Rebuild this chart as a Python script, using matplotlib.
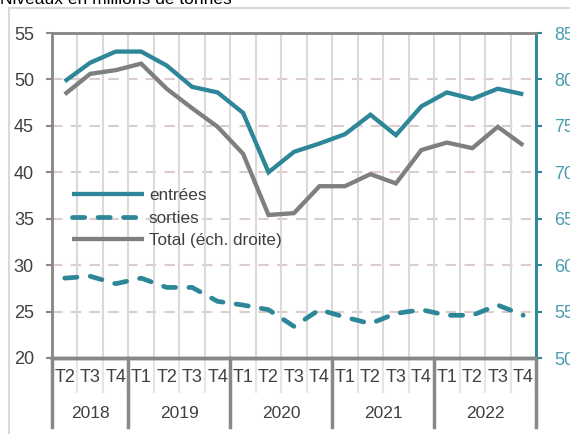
import matplotlib
matplotlib.use("Agg")
import matplotlib.pyplot as plt
import matplotlib.transforms as mtransforms
from matplotlib.lines import Line2D
from matplotlib.patches import Rectangle
import numpy as np

plt.rcParams['font.family'] = ['Liberation Sans', 'DejaVu Sans']

quarters = ["T2", "T3", "T4",
            "T1", "T2", "T3", "T4",
            "T1", "T2", "T3", "T4",
            "T1", "T2", "T3", "T4",
            "T1", "T2", "T3", "T4"]
years = ["2018", "2019", "2020", "2021", "2022"]
year_sizes = [3, 4, 4, 4, 4]

entrees = [49.8, 51.8, 53.0, 53.0, 51.5, 49.2, 48.6, 46.4, 40.0, 42.2,
           43.1, 44.1, 46.2, 44.0, 47.1, 48.6, 47.9, 49.0, 48.4]
sorties = [28.6, 28.8, 28.0, 28.6, 27.6, 27.6, 26.1, 25.7, 25.2, 23.4,
           25.2, 24.4, 23.7, 24.8, 25.2, 24.6, 24.6, 25.7, 24.6]
total = [78.4, 80.6, 81.0, 81.7, 79.0, 76.9, 74.9, 72.0, 65.4, 65.6,
         68.5, 68.5, 69.8, 68.8, 72.4, 73.2, 72.6, 74.9, 72.9]

labels = ["entrées", "sorties", "Total (éch. droite)"]
title = "Niveaux en millions de tonnes"

TEAL = "#2e8798"
TEAL_LIGHT = "#4a9dae"
GRAY = "#7f7f7f"
AXGRAY = "#888888"
TXT = "#404040"

W, H = 570, 434
fig = plt.figure(figsize=(W / 100, H / 100), dpi=100)
fig.patch.set_facecolor("white")

# outer frame
fig.patches.append(Rectangle((9 / W, -0.1), 1.2, 1.1 - 8 / H,
                             transform=fig.transFigure, fill=False,
                             edgecolor="#d9d9d9", linewidth=1.5))
fig.text(0.0, 1 - 4 / H, title, fontsize=12.5, color="black", va="baseline", ha="left")

ax = fig.add_axes([52 / W, 1 - 358 / H, (536 - 52) / W, (358 - 33) / H])
ax2 = ax.twinx()

x = np.arange(len(quarters))
lw = 3.1
l1, = ax.plot(x, entrees, color=TEAL, lw=lw, solid_capstyle="butt", solid_joinstyle="miter", zorder=5)
l2, = ax.plot(x, sorties, color=TEAL, lw=3.4, dashes=(2.6, 2.8), dash_capstyle="round", zorder=5)
l3, = ax2.plot(x, total, color=GRAY, lw=lw, solid_capstyle="butt", solid_joinstyle="miter", zorder=5)

ax.set_xlim(-0.5, len(quarters) - 0.5)
ax.set_ylim(20, 55)
ax2.set_ylim(50, 85)
ax.set_yticks(np.arange(20, 56, 5))
ax2.set_yticks(np.arange(50, 86, 5))

# horizontal dashed grid
for v in range(25, 55, 5):
    ax.axhline(v, color="#dccccc", lw=1.5, dashes=(5, 4), zorder=1)

# x ticks
ax.set_xticks(x)
ax.set_xticklabels(quarters, fontsize=13, color=TXT)
ax.tick_params(axis="x", which="major", length=0, pad=8)
ax.set_xticks(np.arange(-0.5, len(quarters), 1.0), minor=True)
ax.tick_params(axis="x", which="minor", length=25, width=1.5, color="#e6e6e6")
ax.grid(axis="x", which="minor", color="#dadada", lw=1.5, zorder=0)

ax.tick_params(axis="y", length=4, width=1.5, color=AXGRAY, labelsize=13, labelcolor=TXT, pad=9)
ax2.tick_params(axis="y", length=4, width=1.5, color=TEAL, labelsize=13, labelcolor=TEAL_LIGHT, pad=9)

for a in (ax, ax2):
    a.spines["left"].set_color(AXGRAY)
    a.spines["left"].set_linewidth(1.8)
    a.spines["top"].set_color(AXGRAY)
    a.spines["top"].set_linewidth(1.8)
    a.spines["bottom"].set_color(AXGRAY)
    a.spines["bottom"].set_linewidth(2.5)
    a.spines["right"].set_color(TEAL)
    a.spines["right"].set_linewidth(1.8)
ax.patch.set_visible(False)

# year separators and labels
trans = mtransforms.blended_transform_factory(ax.transData, ax.transAxes)
pos = -0.5
sep_bottom = -(427 - 358) / (358 - 33)
ax.add_line(Line2D([pos, pos], [0, sep_bottom], transform=trans, color=AXGRAY, lw=2.5, clip_on=False))
for yr, n in zip(years, year_sizes):
    center = pos + n / 2
    ax.text(center, -(414 - 358) / (358 - 33), yr, transform=trans, ha="center", va="center",
            fontsize=12.5, color=TXT)
    pos += n
    ax.add_line(Line2D([pos, pos], [0, sep_bottom], transform=trans, color=AXGRAY, lw=2.5, clip_on=False))

leg = ax2.legend([l1, l2, l3], labels, loc="upper left",
                 bbox_to_anchor=(72 / W, 1 - 188 / H), bbox_transform=fig.transFigure,
                 frameon=False, fontsize=12.3, handlelength=4.2, handletextpad=0.3,
                 labelspacing=0.45, borderpad=0, borderaxespad=0)
for t in leg.get_texts():
    t.set_color(TXT)

fig.savefig("out.png", dpi=100)
